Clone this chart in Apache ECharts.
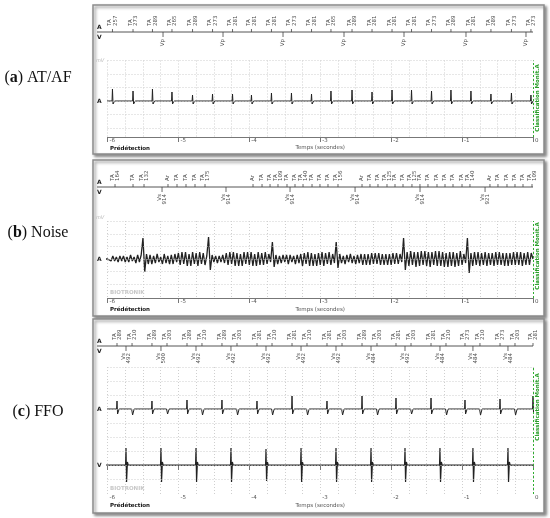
<!DOCTYPE html>
<html>
<head>
<meta charset="utf-8">
<script src="https://cdn.jsdelivr.net/npm/echarts@6/dist/echarts.min.js"></script>
<style>
html, body { margin: 0; padding: 0; background: #fff; }
#chart { width: 550px; height: 518px; }
</style>
</head>
<body>
<div id="chart"></div>
<script>
// time axis labels (seconds before detection)
var timeTicks = ['-6', '-5', '-4', '-3', '-2', '-1', '0']

// (a) AT/AF : atrial events, spike heights, marker intervals, ventricular paced events
var aTimes = [-5.930, -5.640, -5.366, -5.091, -4.801, -4.519, -4.237, -3.970, -3.688, -3.406, -3.123,
  -2.849, -2.552, -2.270, -1.988, -1.713, -1.431, -1.157, -0.875, -0.593, -0.304, -0.029]
var aAmp = [12, 10, 12, 9, 6, 7, 7, 6, 8, 8, 7, 10, 11, 9, 11, 11, 10, 11, 10, 7, 8, 6]
var aIntervals = ['257', '273', '289', '265', '289', '273', '281', '281', '281', '273', '281',
  '265', '289', '281', '281', '281', '273', '289', '281', '289', '273', '273']
var aVpTimes = [-5.217, -4.371, -3.525, -2.665, -1.819, -0.945, -0.099]

// (b) Noise : atrial markers, ventricular sensed markers, atrial EGM samples (every 25 ms from -6 s)
var bTimes = [-5.894, -5.640, -5.485, -5.147, -5.020, -4.893, -4.766, -4.625,
  -3.948, -3.821, -3.708, -3.596, -3.469, -3.356, -3.243, -3.116, -3.004, -2.891, -2.750,
  -2.411, -2.299, -2.186, -2.059, -1.946, -1.833, -1.707, -1.594, -1.481, -1.354, -1.241, -1.128, -1.001, -0.889,
  -0.607, -0.494, -0.367, -0.254, -0.141, -0.014]
var bNames = ['TA\n164', 'TA', 'TA\n132', 'Ar', 'TA', 'TA', 'TA', 'TA\n175',
  'Ar', 'TA', 'TA', 'TA\n109', 'TA', 'TA', 'TA\n140', 'TA', 'TA', 'TA', 'TA\n156',
  'Ar', 'TA', 'TA', 'TA\n125', 'TA', 'TA', 'TA\n125', 'TA', 'TA', 'TA', 'TA', 'TA', 'TA', 'TA\n140',
  'Ar', 'TA', 'TA', 'TA', 'TA', 'TA\n109']
var bVsTimes = [-5.231, -4.329, -3.426, -2.509, -1.593, -0.676]
var bVsIntervals = ['914', '914', '914', '914', '914', '921']
var bStep = 0.025
var bNoise = [
  0, 2, -2, 3, -2, 2, -3, 3, -2, 3, -3, 2, -3, 4, -2, 2, -4, 4, -3, 4,
  21, -13, 5, -5, 4, -5, 3, -4, 5, -3, 2, -5, 5, -4, 3, -5, 4, -5, 5, -3,
  6, -6, 7, -5, 7, -7, 5, -7, 7, -5, 6, -7, 7, -5, 6, -6, 3, 22, -11, 4,
  -3, 3, -4, 3, -3, 4, -4, 6, -6, 7, -5, 7, -7, 6, -7, 5, -7, 7, -5, 7,
  -6, 7, -7, 5, -7, 7, -6, 6, -6, 7, -5, 5, -3, 17, -8, 4, -5, 3, -4, 4,
  -3, 4, -5, 4, -3, 3, -5, 4, -4, 5, -7, 6, -5, 7, -7, 6, -7, 5, -7, 6,
  -6, 7, -7, 6, -5, 7, -6, 5, -4, 17, -9, 5, -4, 3, -5, 4, -3, 5, -4, 3,
  -5, 4, -4, 5, -6, 5, -6, 5, -6, 6, -5, 6, -5, 6, -6, 5, -6, 5, -6, 5,
  -6, 6, -5, 6, -5, 5, -3, 21, -11, 7, -7, 8, -6, 7, -8, 7, -7, 8, -6, 8,
  -7, 7, -8, 7, -6, 8, -7, 8, -7, 7, -8, 6, -8, 7, -7, 7, -8, 6, -7, 8,
  -6, 5, -4, 21, -14, 6, -7, 7, -6, 7, -7, 6, -6, 7, -7, 6, -6, 6, -7, 7,
  -6, 7, -6, 6, -7, 6, -7, 6, -6, 7, -6, 7, -6, 7, -7, 6, -6, 7, -6, 6,
  0]

// (c) FFO : atrial spikes, far-field deflections on the atrial lead, ventricular spikes
var cSpikeTimes = [-5.866, -5.373, -4.879, -4.386, -3.892, -3.398, -2.905, -2.411, -1.932, -1.438, -0.959, -0.465, 0.0]
var cSpikeAmp = [8, 8, 9, 9, 8, 13, 8, 13, 11, 11, 9, 10, 13]
var cSpikeIntervals = ['289', '289', '289', '289', '281', '281', '281', '289', '281', '281', '273', '273', '281']
var cFfTimes = [-5.654, -5.161, -4.668, -4.174, -3.680, -3.187, -2.693, -2.200, -1.720, -1.227, -0.748, -0.254]
var cFfDepth = [6, 5, 6, 6, 6, 6, 6, 6, 5, 6, 6, 6]
var cFfIntervals = ['210', '203', '210', '203', '210', '210', '203', '203', '203', '210', '210', '203']
var cVTimes = [-5.739, -5.246, -4.752, -4.259, -3.765, -3.271, -2.778, -2.284, -1.805, -1.312, -0.847, -0.353]
var cVAmp = [17, 17, 17, 17, 16, 17, 17, 17, 17, 17, 17, 17]
var cVIntervals = ['492', '500', '492', '492', '492', '492', '492', '484', '492', '484', '484', '484']

var chart = echarts.init(document.getElementById('chart'))

var grid = [], xAxis = [], yAxis = [], series = [], graphic = []
var SMALL = 'DejaVu Sans'

function markerSeries(xi, yi, marks, up) {
  return {
    type: 'scatter', xAxisIndex: xi, yAxisIndex: yi, silent: true,
    symbol: 'rect',
    symbolSize: up ? [1, 3] : [1, 5],
    symbolOffset: up ? [0, -1.5] : [0, 2.5],
    itemStyle: { color: '#444' },
    label: {
      show: true, formatter: '{b}', rotate: 90,
      position: up ? 'top' : 'bottom', distance: up ? 3 : 2,
      align: up ? 'left' : 'right', verticalAlign: 'middle',
      fontSize: 5.5, lineHeight: 5.5, fontFamily: SMALL, color: '#222'
    },
    data: marks.map(function (m) { return { name: m[1], value: [m[0], 0] } })
  }
}

function addMarkerRow(lineY, aMarks, vMarks) {
  var g = grid.length, xi = xAxis.length, yi = yAxis.length
  grid.push({ left: 107.5, width: 425.5, top: lineY - 10, height: 20 })
  xAxis.push({ gridIndex: g, type: 'value', min: -6, max: 0, show: false })
  yAxis.push({ gridIndex: g, type: 'value', min: -10, max: 10, show: false })
  series.push(markerSeries(xi, yi, aMarks, true))
  series.push(markerSeries(xi, yi, vMarks, false))
  graphic.push({ type: 'line', shape: { x1: 97, y1: lineY, x2: 533, y2: lineY }, style: { stroke: '#555', lineWidth: 1 } })
  graphic.push(txt('A', 97, lineY - 5, 'bold 6px ' + SMALL, '#222', 'left'))
  graphic.push(txt('V', 97, lineY + 5, 'bold 6px ' + SMALL, '#222', 'left'))
}

// channels: [{data, min, max}], first one carries the grid lines
function addSignalGrid(top, bottom, channels, levels, nameGap) {
  var g = grid.length
  grid.push({ left: 107.5, width: 425.5, top: top, height: bottom - top })
  var xi = xAxis.length
  xAxis.push({
    gridIndex: g, type: 'value', min: -6, max: 0, interval: 0.25,
    axisLine: { show: false }, axisTick: { show: false }, axisLabel: { show: false },
    splitLine: { show: true, lineStyle: { color: '#cfcfcf', type: [1, 2], width: 1 } }
  })
  xAxis.push({
    gridIndex: g, type: 'value', min: -6, max: 0, interval: 1, position: 'bottom',
    axisLine: { lineStyle: { color: '#777', width: 1 } },
    axisTick: { length: 5, lineStyle: { color: '#777' } },
    axisLabel: {
      fontSize: 5.5, fontFamily: SMALL, color: '#555', align: 'left', margin: 1, padding: [0, 0, 0, 2],
      formatter: function (v) { return timeTicks[Math.round(v) + 6] }
    },
    splitLine: { show: false },
    name: 'Temps (secondes)', nameLocation: 'middle', nameGap: nameGap,
    nameTextStyle: { fontSize: 5.5, fontFamily: SMALL, color: '#555' }
  })
  channels.forEach(function (ch, k) {
    var yi = yAxis.length
    yAxis.push({ gridIndex: g, type: 'value', min: ch.min, max: ch.max, show: false })
    var s = {
      type: 'line', xAxisIndex: xi, yAxisIndex: yi, data: ch.data, clip: false,
      showSymbol: false, symbol: 'none', silent: true,
      lineStyle: { color: '#222', width: ch.width || 1 }
    }
    if (k === 0) {
      s.markLine = {
        silent: true, symbol: 'none', label: { show: false },
        lineStyle: { color: '#cfcfcf', type: [1, 2], width: 1 },
        data: levels.map(function (v) { return { yAxis: v } }).concat([
          { xAxis: 0, lineStyle: { color: '#2fae2f', type: [2, 2], width: 1 } }
        ])
      }
    }
    series.push(s)
  })
}

function txt(text, x, y, font, color, align, rot) {
  return {
    type: 'text', x: x, y: y, rotation: rot || 0, z: 5,
    style: { text: text, font: font, fill: color, align: align, textAlign: align, verticalAlign: 'middle', textVerticalAlign: 'middle' }
  }
}

function box(x, y, w, h) {
  return {
    type: 'rect', z: -1, shape: { x: x, y: y, width: w, height: h },
    style: { fill: '#fff', stroke: '#8c8c8c', lineWidth: 1.5, shadowBlur: 3, shadowOffsetX: 2, shadowOffsetY: 2, shadowColor: 'rgba(0,0,0,0.45)' }
  }
}

function spikes(times, up, down, rest) {
  var pts = [[-6.06, 0]]
  var ev = []
  times.forEach(function (t, i) { ev.push([t, up[i], down[i], rest ? rest[i] : 0]) })
  ev.sort(function (p, q) { return p[0] - q[0] })
  ev.forEach(function (e) {
    var t = e[0]
    pts.push([t - 0.006, 0])
    if (e[1]) pts.push([t, e[1]])
    pts.push([t + 0.008, -e[2]])
    if (e[3]) pts.push([t + 0.02, e[3]])
    pts.push([t + 0.03, 0])
  })
  if (pts[pts.length - 1][0] < 0) pts.push([0, 0])
  return pts
}

function caption(letter, rest, y) {
  return {
    type: 'text', x: 38, y: y, z: 5,
    style: {
      text: '({b|' + letter + '}) ' + rest, font: '16px Liberation Serif', fill: '#111',
      align: 'center', textAlign: 'center',
      verticalAlign: 'middle', textVerticalAlign: 'middle',
      rich: { b: { fontWeight: 'bold', fontSize: 16, fontFamily: 'Liberation Serif' } }
    }
  }
}

// ---------- panel boxes and captions
graphic.push(box(93, 5, 451, 149), box(93, 160, 451, 156), box(93, 319, 451, 194))
graphic.push(caption('a', 'AT/AF', 78), caption('b', 'Noise', 233), caption('c', 'FFO', 412))

// ---------- (a) AT/AF
addMarkerRow(32,
  aTimes.map(function (t, i) { return [t, 'TA\n' + aIntervals[i]] }),
  aVpTimes.map(function (t) { return [t, 'Vp'] }))
addSignalGrid(60.5, 137,
  [{ data: spikes(aTimes, aAmp, aAmp.map(function () { return 3 })), min: -36, max: 40.5 }],
  [40.5, 27, 13.5, 0, -13.5, -27], 8)
graphic.push(txt('A', 97, 101, 'bold 6px ' + SMALL, '#222', 'left'))
graphic.push(txt('mV', 96, 61, 'italic 5px ' + SMALL, '#bbb', 'left'))
graphic.push(txt('Prédétection', 110, 149, 'bold 5.5px ' + SMALL, '#111', 'left'))
graphic.push(txt('Classification Monit.A', 538, 98, 'bold 5.5px ' + SMALL, '#2a9d2a', 'center', Math.PI / 2))

// ---------- (b) Noise
addMarkerRow(187,
  bTimes.map(function (t, i) { return [t, bNames[i]] }),
  bVsTimes.map(function (t, i) { return [t, 'Vs\n' + bVsIntervals[i]] }))
var bTrace = [[-6.06, 0]].concat(bNoise.map(function (v, i) { return [-6 + i * bStep, v] }))
addSignalGrid(221, 298, [{ data: bTrace, min: -39, max: 38, width: 1.3 }], [37.5, 25, 12.5, 0, -12.5, -25], 9)
graphic.push(txt('A', 97, 259, 'bold 6px ' + SMALL, '#222', 'left'))
graphic.push(txt('mV', 96, 218, 'italic 5px ' + SMALL, '#bbb', 'left'))
graphic.push(txt('BIOTRONIK', 110, 293, 'bold 5.5px ' + SMALL, '#c8c8c8', 'left'))
graphic.push(txt('Prédétection', 110, 310, 'bold 5.5px ' + SMALL, '#111', 'left'))
graphic.push(txt('Classification Monit.A', 538, 256, 'bold 5.5px ' + SMALL, '#2a9d2a', 'center', Math.PI / 2))

// ---------- (c) FFO
var cAMarks = cSpikeTimes.map(function (t, i) { return [t, 'TA\n' + cSpikeIntervals[i]] })
  .concat(cFfTimes.map(function (t, i) { return [t, 'TA\n' + cFfIntervals[i]] }))
addMarkerRow(346, cAMarks, cVTimes.map(function (t, i) { return [t, 'Vs\n' + cVIntervals[i]] }))
var cATrace = spikes(cSpikeTimes.concat(cFfTimes),
  cSpikeAmp.concat(cFfTimes.map(function () { return 0 })),
  cSpikeTimes.map(function () { return 5 }).concat(cFfDepth))
var cVTrace = spikes(cVTimes, cVAmp, cVAmp, cVAmp.map(function () { return 3 }))
addSignalGrid(367, 494,
  [{ data: cATrace, min: -85, max: 42 }, { data: cVTrace, min: -29, max: 98, width: 1.2 }],
  [42, 28, 14, 0, -14, -28, -42, -56, -70], 9)
graphic.push(txt('A', 97, 409, 'bold 6px ' + SMALL, '#222', 'left'))
graphic.push(txt('V', 97, 465, 'bold 6px ' + SMALL, '#222', 'left'))
graphic.push(txt('BIOTRONIK', 110, 489, 'bold 5.5px ' + SMALL, '#c8c8c8', 'left'))
graphic.push(txt('Prédétection', 110, 506, 'bold 5.5px ' + SMALL, '#111', 'left'))
graphic.push(txt('Classification Monit.A', 538, 407, 'bold 5.5px ' + SMALL, '#2a9d2a', 'center', Math.PI / 2))

chart.setOption({
  animation: false,
  backgroundColor: '#fff',
  grid: grid,
  xAxis: xAxis,
  yAxis: yAxis,
  series: series,
  graphic: graphic
})
</script>
</body>
</html>
